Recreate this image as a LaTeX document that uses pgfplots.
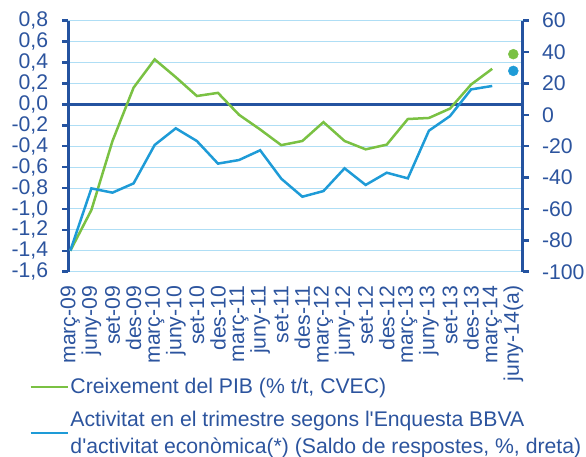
\documentclass[border=0pt]{standalone}
\usepackage{fontspec}
\setmainfont{Liberation Sans}
\usepackage{pgfplots}
\usepackage{pgfplotstable}
\pgfplotsset{compat=1.18}
\definecolor{grn}{RGB}{122,193,67}
\definecolor{blu}{RGB}{30,155,215}
\definecolor{txt}{RGB}{44,84,158}
\definecolor{axc}{RGB}{36,83,160}
\definecolor{gridc}{RGB}{175,222,245}

\pgfplotstableread{
x y
0 -1.40
1 -1.01
2 -0.35
3 0.16
4 0.43
5 0.26
6 0.08
7 0.11
8 -0.10
9 -0.24
10 -0.39
11 -0.35
12 -0.17
13 -0.35
14 -0.43
15 -0.385
16 -0.14
17 -0.13
18 -0.04
19 0.19
20 0.34
}\pib

\pgfplotstableread{
x y
0 -86.6
1 -46.9
2 -49.6
3 -43.7
4 -19.2
5 -8.6
6 -16.7
7 -31.1
8 -28.8
9 -22.6
10 -40.7
11 -52.2
12 -48.6
13 -34.1
14 -44.7
15 -36.9
16 -40.5
17 -10.1
18 -0.8
19 16.2
20 18.4
}\enq

\pgfplotsset{
  common/.style={
    at={(68.3bp,-271.7bp)}, anchor=south west,
    width=454.5bp, height=251bp, scale only axis,
    xmin=-0.095, xmax=21.45,
    font=\fontsize{21.2bp}{27bp}\selectfont,
    tick align=outside, major tick length=6bp,
    y axis line style={axc, line width=3bp, -},
    ytick style={axc, line width=2.5bp},
    yticklabel style={text=txt, inner sep=0pt,
      /pgf/number format/.cd, assume math mode=true},
  }
}

\begin{document}
\begin{tikzpicture}[font=\fontsize{21.2bp}{27bp}\selectfont]
\useasboundingbox (0,0) rectangle (586bp,-457bp);

\begin{axis}[common,
  ymin=-1.6, ymax=0.8,
  ytick={-1.6,-1.4,-1.2,-1.0,-0.8,-0.6,-0.4,-0.2,0,0.2,0.4,0.6,0.8},
  axis x line*=bottom, axis y line*=left,
  x axis line style={draw=none},
  xtick={0,...,21},
  xticklabels={març-09,juny-09,set-09,des-09,març-10,juny-10,set-10,des-10,març-11,juny-11,set-11,des-11,març-12,juny-12,set-12,des-12,març-13,juny-13,set-13,des-13,març-14,juny-14(a)},
  xtick style={draw=none},
  xticklabel style={rotate=90, anchor=east, inner sep=0pt, text=txt},
  xticklabel shift=8bp,
  yticklabel style={/pgf/number format/.cd, fixed, fixed zerofill, precision=1, use comma},
  yticklabel shift=14bp,
  ymajorgrids, grid style={gridc, line width=1bp},
  legend style={at={(axis description cs:-0.0858,-0.416)}, anchor=north west,
    draw=none, fill=none, inner sep=0pt, text=txt,
    font=\fontsize{21.2bp}{27bp}\selectfont,
    cells={anchor=west, align=left}, row sep=12bp},
  legend cell align=left,
  legend image code/.code={\draw[#1, line width=2bp] (0bp,0bp) -- (37bp,0bp);},
]
\draw[axc, line width=3bp] (axis cs:-0.095,0) -- (axis cs:21.45,0);
\pgfplotsinvokeforeach{1,...,21}{
  \draw[axc, line width=2.5bp] (axis cs:#1,0) ++(-1.2bp,0) -- ++(0,-5.5bp);
}
\addplot[grn, line width=2.5bp] table[x=x,y=y] {\pib};
\addlegendentry{Creixement del PIB (\% t/t, CVEC)}
\addplot[grn, only marks, mark=*, mark size=5bp, forget plot] coordinates {(21,0.48)};
\addlegendimage{blu, line width=2.5bp}
\addlegendentry{Activitat en el trimestre segons l\textquotesingle Enquesta BBVA\\d\textquotesingle activitat econòmica(*) (Saldo de respostes, \%, dreta)}
\end{axis}

\begin{axis}[common,
  ymin=-100, ymax=60,
  ytick={-100,-80,-60,-40,-20,0,20,40,60},
  axis x line=none, axis y line*=right,
  yticklabel shift=13bp,
]
\addplot[blu, line width=2.5bp] table[x=x,y=y] {\enq};
\addplot[blu, only marks, mark=*, mark size=5bp] coordinates {(21,28)};
\end{axis}
\end{tikzpicture}
\end{document}
